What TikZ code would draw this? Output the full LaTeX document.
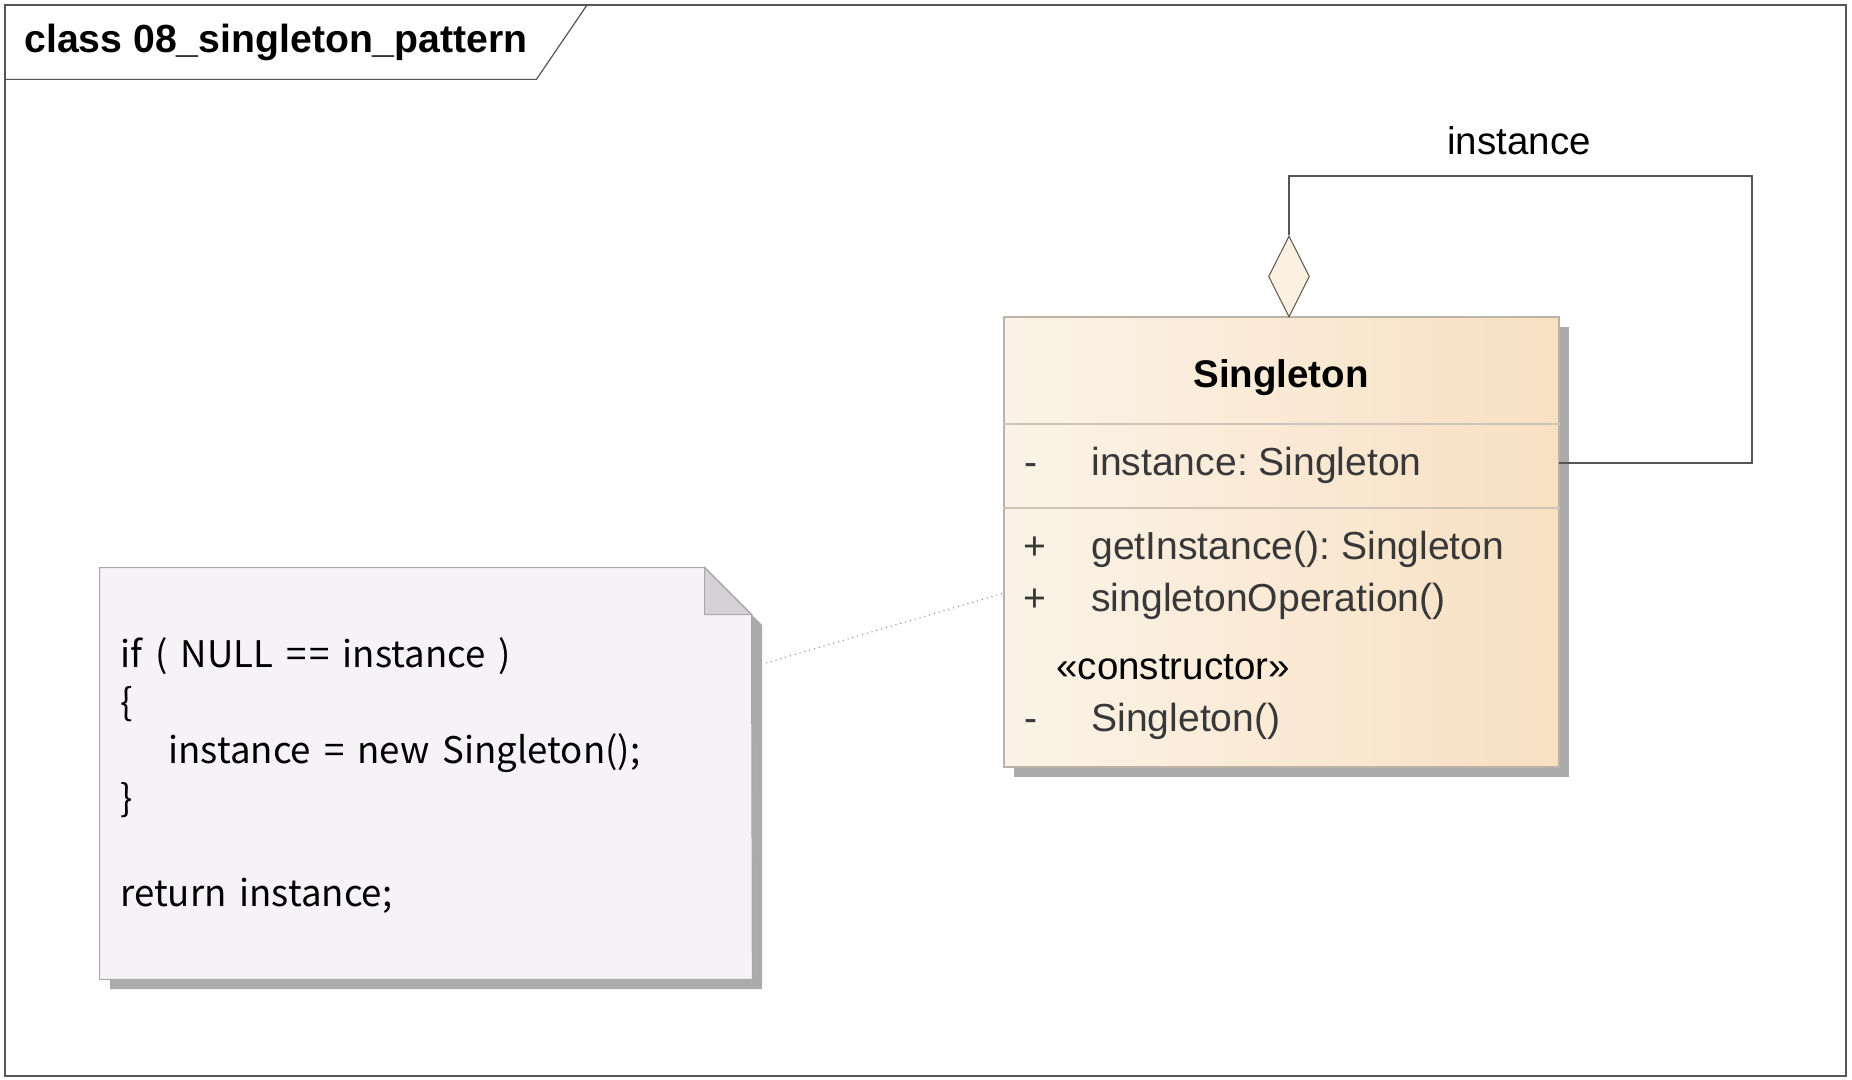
\documentclass[tikz,border=0pt]{standalone}
\usepackage{fontspec}
\setmainfont{Liberation Sans}
\newfontfamily\notefont{Noto Sans CJK KR}
\usetikzlibrary{shapes.geometric}
\frenchspacing
\newcommand{\widespaces}{\spaceskip=6.5pt\relax}
\definecolor{frameline}{HTML}{555555}
\definecolor{clsleft}{HTML}{FBF3E8}
\definecolor{clsright}{HTML}{F8E0C2}
\definecolor{clsborder}{HTML}{BDB2A6}
\definecolor{clssep}{HTML}{CFC3B5}
\definecolor{shadowgray}{HTML}{ABABAB}
\definecolor{notefill}{HTML}{F6F3F6}
\definecolor{noteborder}{HTML}{A9A9A9}
\definecolor{notefold}{HTML}{D6D1D6}
\definecolor{itemtext}{HTML}{383838}
\definecolor{diamfill}{HTML}{FCF0E1}
\definecolor{diamline}{HTML}{5C5248}
\tikzset{
  big/.style={font=\fontsize{19.25pt}{23pt}\selectfont},
  bigbold/.style={font=\fontsize{19.25pt}{23pt}\selectfont\bfseries},
  titlefont/.style={font=\fontsize{19.6pt}{23pt}\selectfont\bfseries},
  item/.style={font=\fontsize{19.55pt}{23pt}\selectfont, text=itemtext, anchor=base west, inner sep=0},
  notetxt/.style={font=\notefont\fontsize{18.3pt}{24pt}\selectfont, anchor=base west, inner sep=0},
  assoc/.style={draw=frameline, line width=0.6pt},
}
\begin{document}
\begin{tikzpicture}[x=0.5pt,y=-0.5pt]
\useasboundingbox (0,0) rectangle (1852,1080);
% frame
\node (frame) at (925.5,540.5) [draw=frameline, line width=0.6pt, minimum width=920.5pt, minimum height=535.5pt, inner sep=0] {};
\draw[frameline, line width=0.6pt] (frame.north west) ++(0,75) -- ++(532,0) -- ++(51,-75);
\node (title) [titlefont, anchor=base west, inner sep=0] at (24,53) {class 08\_singleton\_pattern};

% class shadow and box
\fill[shadowgray] (1014,327) rectangle (1569,777);
\node (cls) at (1281.5,542) [draw=clsborder, line width=0.6pt, left color=clsleft, right color=clsright, minimum width=277.5pt, minimum height=225pt, inner sep=0] {};
\draw[clssep, line width=0.6pt] (cls.west |- 0,424) -- (cls.east |- 0,424);
\draw[clssep, line width=0.6pt] (cls.west |- 0,508) -- (cls.east |- 0,508);
\node (clsname) [bigbold, anchor=base, inner sep=0] at (1281,388) {Singleton};
\node (v1) [item] at (1024,475) {-};
\node (a1) [item] at (1091,475) {instance: Singleton};
\node (v2) [item] at (1023,559) {+};
\node (o1) [item] at (1091,559) {getInstance(): Singleton};
\node (v3) [item] at (1023,611) {+};
\node (o2) [item] at (1091,611) {singletonOperation()};
\node (st) [big, anchor=base west, inner sep=0] at (1056,679) {«constructor»};
\node (v4) [item] at (1024,731) {-};
\node (o3) [item] at (1091,731) {Singleton()};

% self association
\node (diam) at (1289,276.5) [diamond, draw=diamline, fill=diamfill, line width=0.5pt, minimum width=20.5pt, minimum height=40.5pt, inner sep=0] {};
\coordinate (turnR) at (1752,176);
\coordinate (selfend) at (1559,463);
\draw[assoc] (diam.north) |- (turnR) |- (selfend);
\node (rolelbl) [big, anchor=base, inner sep=0] at (1519,155) {instance};

% note shadow and body
\fill[shadowgray] (110,578) -- (715,578) -- (762,625) -- (762,989) -- (110,989) -- cycle;
\node (note) at (426,773.5) [minimum width=326pt, minimum height=205.5pt, inner sep=0] {};
\draw[noteborder, fill=notefill, line width=0.6pt] (note.north west) -- ++(605,0) -- ++(47,47) -- (note.south east) -- (note.south west) -- cycle;
\draw[noteborder, fill=notefold, line width=0.6pt] (note.north west) ++(605,0) -- ++(0,47) -- ++(47,0) -- cycle;
\node (n1) [notetxt] at (120,667) {\widespaces if ( NULL ={\kern1.5pt}= instance )};
\node (n2) [notetxt] at (120,715) {\{};
\node (n3) [notetxt] at (168,763) {\widespaces instance = new Singleton();};
\node (n4) [notetxt] at (120,811) {\}};
\node (n5) [notetxt] at (120,906) {\widespaces return instance;};

% note link
\coordinate (notelink) at (766,663);
\coordinate (clslink) at (1004,593);
\draw[gray, dotted, line width=0.5pt] (notelink) -- (clslink);
\end{tikzpicture}
\end{document}
